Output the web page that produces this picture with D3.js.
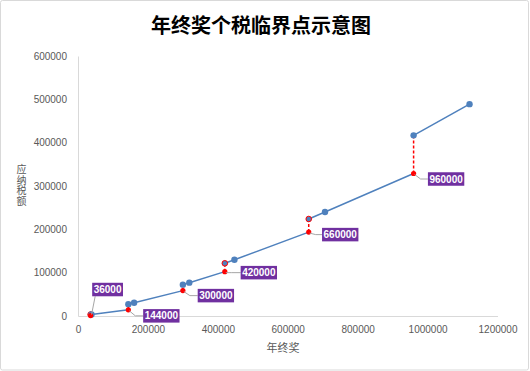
<html>
<head>
<meta charset="utf-8">
<script src="https://cdn.jsdelivr.net/npm/d3@7"></script>
<style>
    body { margin: 0; background: #fff; }
    svg { display: block; }
    .tick text { fill: #595959; font-family: "Liberation Sans", Arial, sans-serif; font-size: 10px; }
    .vtitle { writing-mode: vertical-rl; text-orientation: upright; }
</style>
</head>
<body>
<svg id="chart"></svg>
<script>
    // 临界点 (年终奖) 及对应税额
    let breakpoints = [36000, 144000, 300000, 420000, 660000, 960000]
    let taxAtBreak = [1080, 14190, 58590, 102340, 193590, 328840]
    // 多发1元后的税额
    let taxAbove = [3390, 27390, 72340, 121590, 223840, 416840]
    // 税后持平点
    let balanceBonus = [38567, 160500, 318333, 447500, 706538, 1120000]
    let balanceTax = [3647, 30690, 76923, 129840, 240128, 488840]
    let labels = ["36000", "144000", "300000", "420000", "660000", "960000"]
    let xTicks = [0, 200000, 400000, 600000, 800000, 1000000, 1200000]
    let yTicks = [0, 100000, 200000, 300000, 400000, 500000, 600000]

    let width = 530, height = 371
    let margin = { top: 56, left: 78, right: 32.5, bottom: 55 }

    let svg = d3.select("#chart").attr("width", width).attr("height", height)

    svg.append("rect")
       .attr("x", 0.5).attr("y", 0.5)
       .attr("width", width - 2).attr("height", height - 1.5)
       .attr("rx", 2)
       .attr("fill", "#fff").attr("stroke", "#d9d9d9")

    let xScale = d3.scaleLinear().domain([0, 1200000]).range([margin.left, width - margin.right])
    let yScale = d3.scaleLinear().domain([0, 600000]).range([height - margin.bottom, margin.top])

    let xAxis = d3.axisBottom(xScale).tickValues(xTicks).tickSize(0).tickPadding(10).tickFormat(d3.format("d"))
    let yAxis = d3.axisLeft(yScale).tickValues(yTicks).tickSize(0).tickPadding(11).tickFormat(d3.format("d"))

    svg.append("g")
       .attr("transform", `translate(0,${yScale(0)})`)
       .call(xAxis)
       .call(g => g.select(".domain").attr("stroke", "#d9d9d9"))

    svg.append("g")
       .attr("transform", `translate(${margin.left},0)`)
       .call(yAxis)
       .call(g => g.select(".domain").attr("stroke", "#d9d9d9"))

    // 标题
    svg.append("text")
       .attr("x", 261).attr("y", 33)
       .attr("text-anchor", "middle")
       .style("font-family", '"Noto Sans CJK SC", sans-serif')
       .style("font-weight", "bold")
       .style("font-size", "20px")
       .attr("fill", "#000")
       .text("年终奖个税临界点示意图")

    svg.append("text")
       .attr("x", 283).attr("y", 352)
       .attr("text-anchor", "middle")
       .style("font-family", '"Noto Sans CJK SC", sans-serif')
       .style("font-size", "11px")
       .attr("fill", "#595959")
       .text("年终奖")

    // 纵向排列的坐标轴标题
    svg.append("text")
       .attr("class", "vtitle")
       .attr("x", 21.5).attr("y", 164)
       .style("font-family", '"Noto Sans CJK SC", sans-serif')
       .style("font-size", "10px")
       .style("letter-spacing", "0.8px")
       .attr("fill", "#595959")
       .text("应纳税额")

    // 蓝色分段折线
    let segments = breakpoints.map((b, i) => {
        let pts = [[b + 1, taxAbove[i]], [balanceBonus[i], balanceTax[i]]]
        if (i < breakpoints.length - 1) pts.push([breakpoints[i + 1], taxAtBreak[i + 1]])
        return pts
    })

    let line = d3.line().x(d => xScale(d[0])).y(d => yScale(d[1]))

    svg.append("g").selectAll("path")
       .data(segments)
       .enter()
       .append("path")
       .attr("d", line)
       .attr("fill", "none")
       .attr("stroke", "#4f81bd")
       .attr("stroke-width", 1.5)

    // 红色虚线 (跳变)
    svg.append("g").selectAll("line")
       .data(breakpoints)
       .enter()
       .append("line")
       .attr("x1", d => xScale(d)).attr("x2", d => xScale(d))
       .attr("y1", (d, i) => yScale(taxAtBreak[i]))
       .attr("y2", (d, i) => yScale(taxAbove[i]))
       .attr("stroke", "#ff0000")
       .attr("stroke-width", 1.5)
       .attr("stroke-dasharray", "3,2")

    // 蓝色标记点
    let bluePts = []
    breakpoints.forEach((b, i) => {
        bluePts.push({ x: b + 1, y: taxAbove[i], ring: i == 0 || i == 3 || i == 4 })
        bluePts.push({ x: balanceBonus[i], y: balanceTax[i], ring: false })
    })

    svg.append("g").selectAll("circle")
       .data(bluePts)
       .enter()
       .append("circle")
       .attr("cx", d => xScale(d.x))
       .attr("cy", d => yScale(d.y))
       .attr("r", d => d.ring ? 2.8 : 3.2)
       .attr("fill", "#4f81bd")
       .attr("stroke", d => d.ring ? "#ff0000" : "none")
       .attr("stroke-width", 1)

    // 红色临界点
    svg.append("g").selectAll("circle")
       .data(breakpoints)
       .enter()
       .append("circle")
       .attr("cx", d => xScale(d))
       .attr("cy", (d, i) => yScale(taxAtBreak[i]))
       .attr("r", 2.6)
       .attr("fill", "#ff0000")

    // 数据标签
    let labelPos = [
        { dx: 17, dy: -26 },
        { dx: 33, dy: 6 },
        { dx: 33, dy: 5 },
        { dx: 34, dy: 1 },
        { dx: 31.5, dy: 2.5 },
        { dx: 32.5, dy: 5.5 }
    ]

    let labelG = svg.append("g")
    breakpoints.forEach((b, i) => {
        let px = xScale(b), py = yScale(taxAtBreak[i])
        let cx = px + labelPos[i].dx, cy = py + labelPos[i].dy
        let w = labels[i].length * 5.56 + 3, h = 13.5
        let left = cx - w / 2
        let leader = i == 0
            ? [[px + 1, py - 1], [left + 3, cy + h / 2]]
            : [[px + 1, py + 1], [px + 7, cy], [left, cy]]
        labelG.append("path")
              .attr("d", d3.line()(leader))
              .attr("fill", "none")
              .attr("stroke", "#a6a6a6")
              .attr("stroke-width", 1)
        labelG.append("rect")
              .attr("x", left).attr("y", cy - h / 2)
              .attr("width", w).attr("height", h)
              .attr("fill", "#7030a0")
        labelG.append("text")
              .attr("x", cx).attr("y", cy + 3.6)
              .attr("text-anchor", "middle")
              .style("font-family", '"Liberation Sans", Arial, sans-serif')
              .style("font-weight", "bold")
              .style("font-size", "10px")
              .attr("fill", "#fff")
              .text(labels[i])
    })
</script>
</body>
</html>
